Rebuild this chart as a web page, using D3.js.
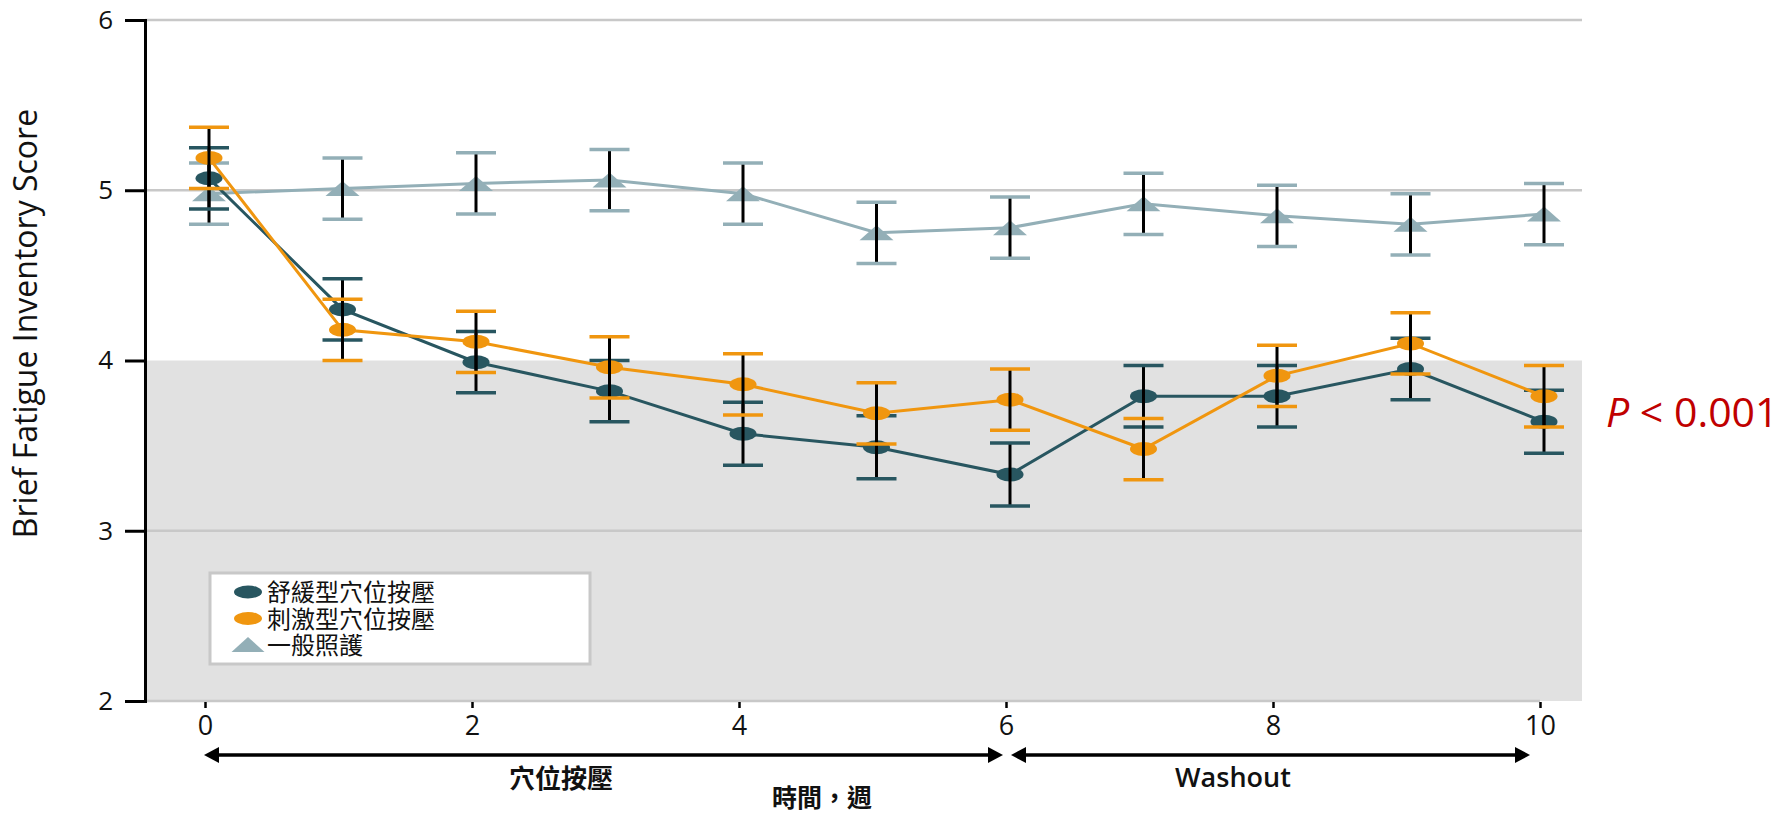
<!DOCTYPE html>
<html>
<head>
<meta charset="utf-8">
<script src="https://cdn.jsdelivr.net/npm/d3@7"></script>
<style>
  body { margin: 0; background: #fff; }
  svg { display: block; font-family: 'Open Sans', 'Noto Sans CJK TC', sans-serif; }
</style>
</head>
<body>
<svg id="chart" width="1779" height="814"></svg>
<script>
// weeks on the x axis
const weeks = [0, 1, 2, 3, 4, 5, 6, 7, 8, 9, 10];
const xTicks = [0, 2, 4, 6, 8, 10];
const yTicks = [2, 3, 4, 5, 6];

// mean scores and error half-widths
const soothingMean = [5.07, 4.30, 3.99, 3.82, 3.57, 3.49, 3.33, 3.79, 3.79, 3.95, 3.64];
const soothingErr = [0.18, 0.18, 0.18, 0.18, 0.185, 0.185, 0.185, 0.18, 0.18, 0.18, 0.185];
const stimulatingMean = [5.19, 4.18, 4.11, 3.96, 3.86, 3.69, 3.77, 3.48, 3.91, 4.10, 3.79];
const stimulatingErr = [0.18, 0.18, 0.18, 0.18, 0.18, 0.18, 0.18, 0.18, 0.18, 0.18, 0.18];
const usualMean = [4.98, 5.01, 5.04, 5.06, 4.98, 4.75, 4.78, 4.92, 4.85, 4.80, 4.86];
const usualErr = [0.18, 0.18, 0.18, 0.18, 0.18, 0.18, 0.18, 0.18, 0.18, 0.18, 0.18];

const seriesNames = ['舒緩型穴位按壓', '刺激型穴位按壓', '一般照護'];

const series = [
  { name: seriesNames[2], mean: usualMean, err: usualErr, color: '#93afb7', shape: 'triangle' },
  { name: seriesNames[0], mean: soothingMean, err: soothingErr, color: '#285660', shape: 'ellipse' },
  { name: seriesNames[1], mean: stimulatingMean, err: stimulatingErr, color: '#f0960f', shape: 'ellipse' },
];

const svg = d3.select('#chart');

// Set the ranges
const x = d3.scaleLinear().domain([0, 10]).range([209, 1544]);
const y = d3.scaleLinear().domain([2, 6]).range([701, 20]);
const plotLeft = 145;
const plotRight = 1582;

// Shaded band below 4
svg.append('rect')
  .attr('x', plotLeft)
  .attr('y', y(4))
  .attr('width', plotRight - plotLeft)
  .attr('height', y(2) - y(4))
  .attr('fill', '#e1e1e1');

// Gridlines (4 is the band edge)
svg.selectAll('line.grid')
  .data([3, 5, 6])
  .enter().append('line')
  .attr('class', 'grid')
  .attr('x1', plotLeft)
  .attr('x2', plotRight)
  .attr('y1', d => y(d))
  .attr('y2', d => y(d))
  .attr('stroke', '#c8c8c8')
  .attr('stroke-width', 2.5);

// X axis line is grey and stops at the last week
svg.append('line')
  .attr('x1', plotLeft)
  .attr('x2', x(10) - 4)
  .attr('y1', y(2))
  .attr('y2', y(2))
  .attr('stroke', '#c8c8c8')
  .attr('stroke-width', 2.5);

// Add the Y Axis
const yAxis = d3.axisLeft(y).tickValues(yTicks).tickFormat(d3.format('d')).tickSize(20).tickPadding(12);
const gy = svg.append('g')
  .attr('transform', `translate(${plotLeft}, 0)`)
  .call(yAxis);
gy.select('.domain').attr('stroke', '#000').attr('stroke-width', 3);
gy.selectAll('.tick line').attr('stroke', '#000').attr('stroke-width', 3);
gy.selectAll('.tick text')
  .attr('font-size', 26)
  .attr('fill', '#111')
  .style('font-family', "'Open Sans', sans-serif");

// Add the X Axis (small ticks only)
const xAxis = d3.axisBottom(x).tickValues(xTicks).tickFormat(d3.format('d')).tickSize(6).tickPadding(8);
const gx = svg.append('g')
  .attr('transform', `translate(-4, ${y(2) + 1})`)
  .call(xAxis);
gx.select('.domain').remove();
gx.selectAll('.tick line').attr('stroke', '#000').attr('stroke-width', 2.5);
gx.selectAll('.tick text')
  .attr('font-size', 27)
  .attr('fill', '#111')
  .style('font-family', "'Open Sans', sans-serif");

// Y axis title
svg.append('text')
  .attr('transform', `translate(26, ${(y(2) + y(6)) / 2 - 37}) rotate(-90)`)
  .attr('dy', '0.35em')
  .style('text-anchor', 'middle')
  .attr('font-size', 32)
  .attr('fill', '#111')
  .text('Brief Fatigue Inventory Score');

// Draw the series: line, markers, then error bars on top
const line = d3.line()
  .x((d, i) => x(weeks[i]))
  .y(d => y(d));

series.forEach((s) => {
  const g = svg.append('g');

  g.append('path')
    .datum(s.mean)
    .attr('fill', 'none')
    .attr('stroke', s.color)
    .attr('stroke-width', 3)
    .attr('d', line);

  if (s.shape === 'ellipse') {
    g.selectAll('ellipse')
      .data(s.mean)
      .enter().append('ellipse')
      .attr('cx', (d, i) => x(weeks[i]))
      .attr('cy', d => y(d))
      .attr('rx', 13.5)
      .attr('ry', 7)
      .attr('fill', s.color);
  } else {
    g.selectAll('path.tri')
      .data(s.mean)
      .enter().append('path')
      .attr('class', 'tri')
      .attr('transform', (d, i) => `translate(${x(weeks[i])}, ${y(d)})`)
      .attr('d', 'M-17,7.5L0,-7.5L17,7.5Z')
      .attr('fill', s.color);
  }

  const bars = g.selectAll('g.err')
    .data(s.mean)
    .enter().append('g')
    .attr('class', 'err')
    .attr('transform', (d, i) => `translate(${x(weeks[i])}, 0)`);

  bars.append('line')
    .attr('y1', (d, i) => y(d + s.err[i]))
    .attr('y2', (d, i) => y(d - s.err[i]))
    .attr('stroke', '#000')
    .attr('stroke-width', 3);

  bars.append('line')
    .attr('x1', -20)
    .attr('x2', 20)
    .attr('y1', (d, i) => y(d + s.err[i]))
    .attr('y2', (d, i) => y(d + s.err[i]))
    .attr('stroke', s.color)
    .attr('stroke-width', 3.5);

  bars.append('line')
    .attr('x1', -20)
    .attr('x2', 20)
    .attr('y1', (d, i) => y(d - s.err[i]))
    .attr('y2', (d, i) => y(d - s.err[i]))
    .attr('stroke', s.color)
    .attr('stroke-width', 3.5);
});

// Legend
const legend = svg.append('g');
legend.append('rect')
  .attr('x', 210)
  .attr('y', 573)
  .attr('width', 380)
  .attr('height', 91)
  .attr('fill', '#fff')
  .attr('stroke', '#c8c8c8')
  .attr('stroke-width', 3);

const legendItems = [series[1], series[2], series[0]];
legendItems.forEach((s, i) => {
  const cy = 592 + i * 26.5;
  if (s.shape === 'ellipse') {
    legend.append('ellipse')
      .attr('cx', 248)
      .attr('cy', cy)
      .attr('rx', 14)
      .attr('ry', 6.5)
      .attr('fill', s.color);
  } else {
    legend.append('path')
      .attr('transform', `translate(248, ${cy})`)
      .attr('d', 'M-16.5,7L0,-8L16.5,7Z')
      .attr('fill', s.color);
  }
  legend.append('text')
    .attr('x', 267)
    .attr('y', cy + 9)
    .attr('font-size', 24)
    .attr('fill', '#111')
    .style('font-family', "'Noto Sans CJK TC', sans-serif")
    .text(s.name);
});

// Period arrows under the axis
const arrowY = 755;
const arrowHead = (tipX, dir) => `M${tipX},${arrowY}L${tipX - dir * 15},${arrowY - 8}L${tipX - dir * 15},${arrowY + 8}Z`;
const periods = [
  { from: x(0) - 5, to: x(6) - 7 },
  { from: x(6) + 1, to: x(10) - 14 },
];
periods.forEach((p) => {
  svg.append('line')
    .attr('x1', p.from + 10)
    .attr('x2', p.to - 10)
    .attr('y1', arrowY)
    .attr('y2', arrowY)
    .attr('stroke', '#000')
    .attr('stroke-width', 3.5);
  svg.append('path').attr('d', arrowHead(p.from, -1)).attr('fill', '#000');
  svg.append('path').attr('d', arrowHead(p.to, 1)).attr('fill', '#000');
});

svg.append('text')
  .attr('x', 561)
  .attr('y', 788)
  .style('text-anchor', 'middle')
  .attr('font-size', 26)
  .attr('font-weight', 700)
  .attr('fill', '#111')
  .style('font-family', "'Noto Sans CJK TC', sans-serif")
  .text('穴位按壓');

svg.append('text')
  .attr('x', 1233)
  .attr('y', 787)
  .style('text-anchor', 'middle')
  .attr('font-size', 27)
  .attr('font-weight', 600)
  .attr('fill', '#111')
  .text('Washout');

// X axis title
svg.append('text')
  .attr('x', 822)
  .attr('y', 807)
  .style('text-anchor', 'middle')
  .attr('font-size', 25)
  .attr('font-weight', 700)
  .attr('fill', '#111')
  .style('font-family', "'Noto Sans CJK TC', sans-serif")
  .text('時間，週');

// P value
const pText = svg.append('text')
  .attr('x', 1606)
  .attr('y', 427)
  .attr('font-size', 41)
  .attr('fill', '#c00000');
pText.append('tspan').attr('font-style', 'italic').text('P');
pText.append('tspan').text(' < 0.001');
</script>
</body>
</html>
